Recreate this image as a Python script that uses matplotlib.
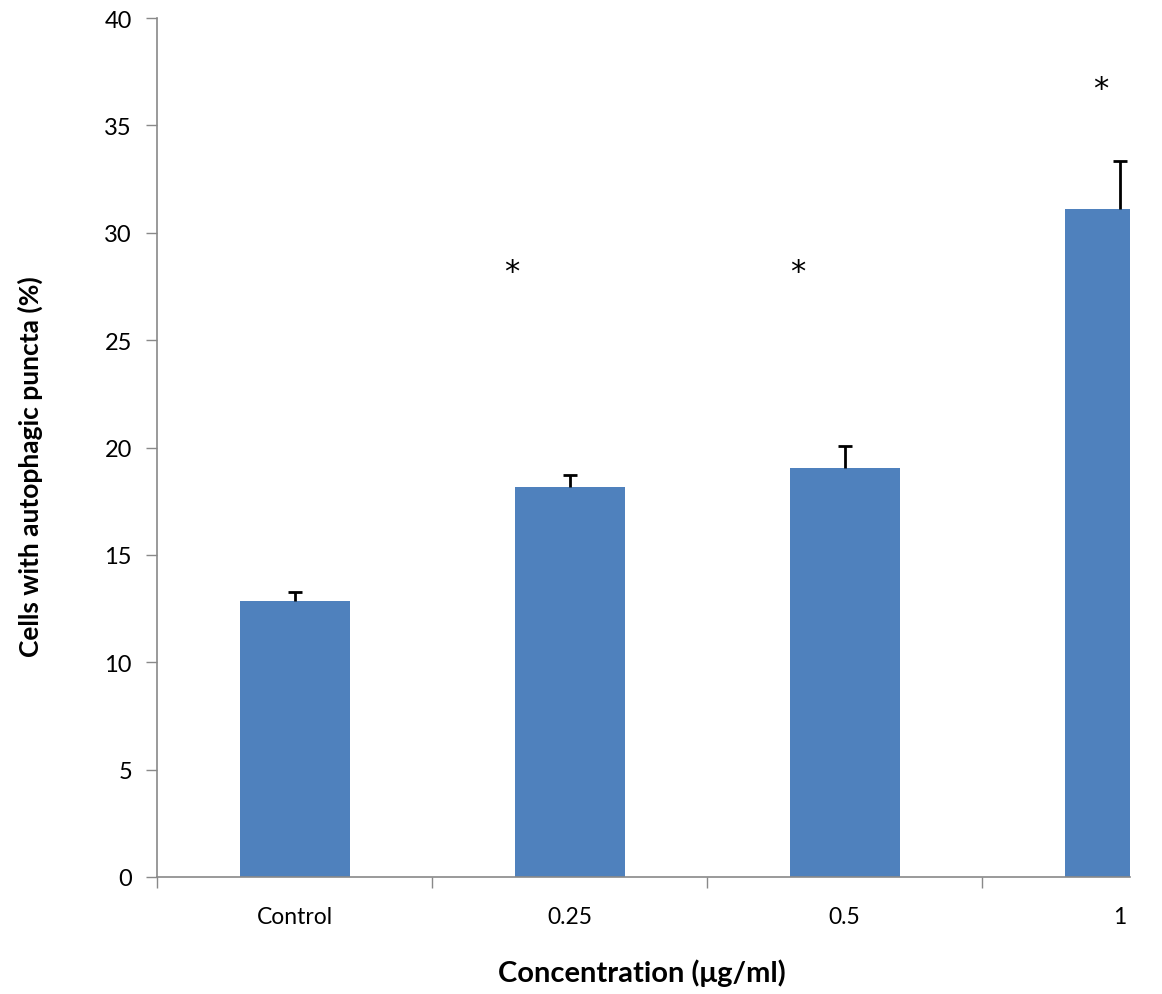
import matplotlib
matplotlib.use("Agg")
import matplotlib.pyplot as plt

categories = ["Control", "0.25", "0.5", "1"]
means = [12.85, 18.15, 19.05, 31.1]
errors = [0.4, 0.55, 1.0, 2.25]
star_x = [None, 0.79, 1.83, 2.93]
star_y = [None, 28.2, 28.2, 36.7]

plt.rcParams['font.family'] = ['Lato', 'DejaVu Sans']

W, H = 1162, 995
fig = plt.figure(figsize=(W / 100, H / 100), dpi=100)
left, right, bottom, top = 157, 1130, 878, 19
ax = fig.add_axes([left / W, 1 - bottom / H, (right - left) / W, (bottom - top) / H])

x = list(range(len(categories)))
ax.bar(x, means, width=0.4, color="#4F81BD", zorder=2)
eb = ax.errorbar(x, means, yerr=[[0] * len(means), errors], fmt="none",
                 ecolor="black", elinewidth=2, capsize=5, capthick=2, zorder=3)
eb[1][0].set_visible(False)

for sx, sy in zip(star_x, star_y):
    if sx is not None:
        ax.text(sx, sy, "*", ha="center", va="center", fontsize=22,
                color="black", family="DejaVu Sans")

cat_w = 275
ax.set_xlim(-0.5, -0.5 + (right - left) / cat_w)
ax.set_ylim(0, 40)
ax.set_yticks(range(0, 41, 5))
ax.set_xticks(x)
ax.set_xticklabels(categories)
ax.set_xticks([-0.5, 0.5, 1.5, 2.5], minor=True)
ax.tick_params(axis="x", which="major", length=0, pad=21, labelsize=16.5)
ax.tick_params(axis="x", which="minor", length=8, color="#898989", width=1)
ax.tick_params(axis="y", length=8, color="#898989", width=1, labelsize=17, pad=10)

for s in ["top", "right"]:
    ax.spines[s].set_visible(False)
for s in ["left", "bottom"]:
    ax.spines[s].set_color("#898989")
    ax.spines[s].set_linewidth(1.2)

fig.text(642 / W, 1 - 973 / H, "Concentration (μg/ml)", ha="center", va="center",
         fontsize=21, fontweight="bold")
fig.text(30 / W, 1 - 467 / H, "Cells with autophagic puncta (%)", ha="center", va="center",
         rotation=90, fontsize=19, fontweight="bold")

fig.savefig("out.png", dpi=100)
